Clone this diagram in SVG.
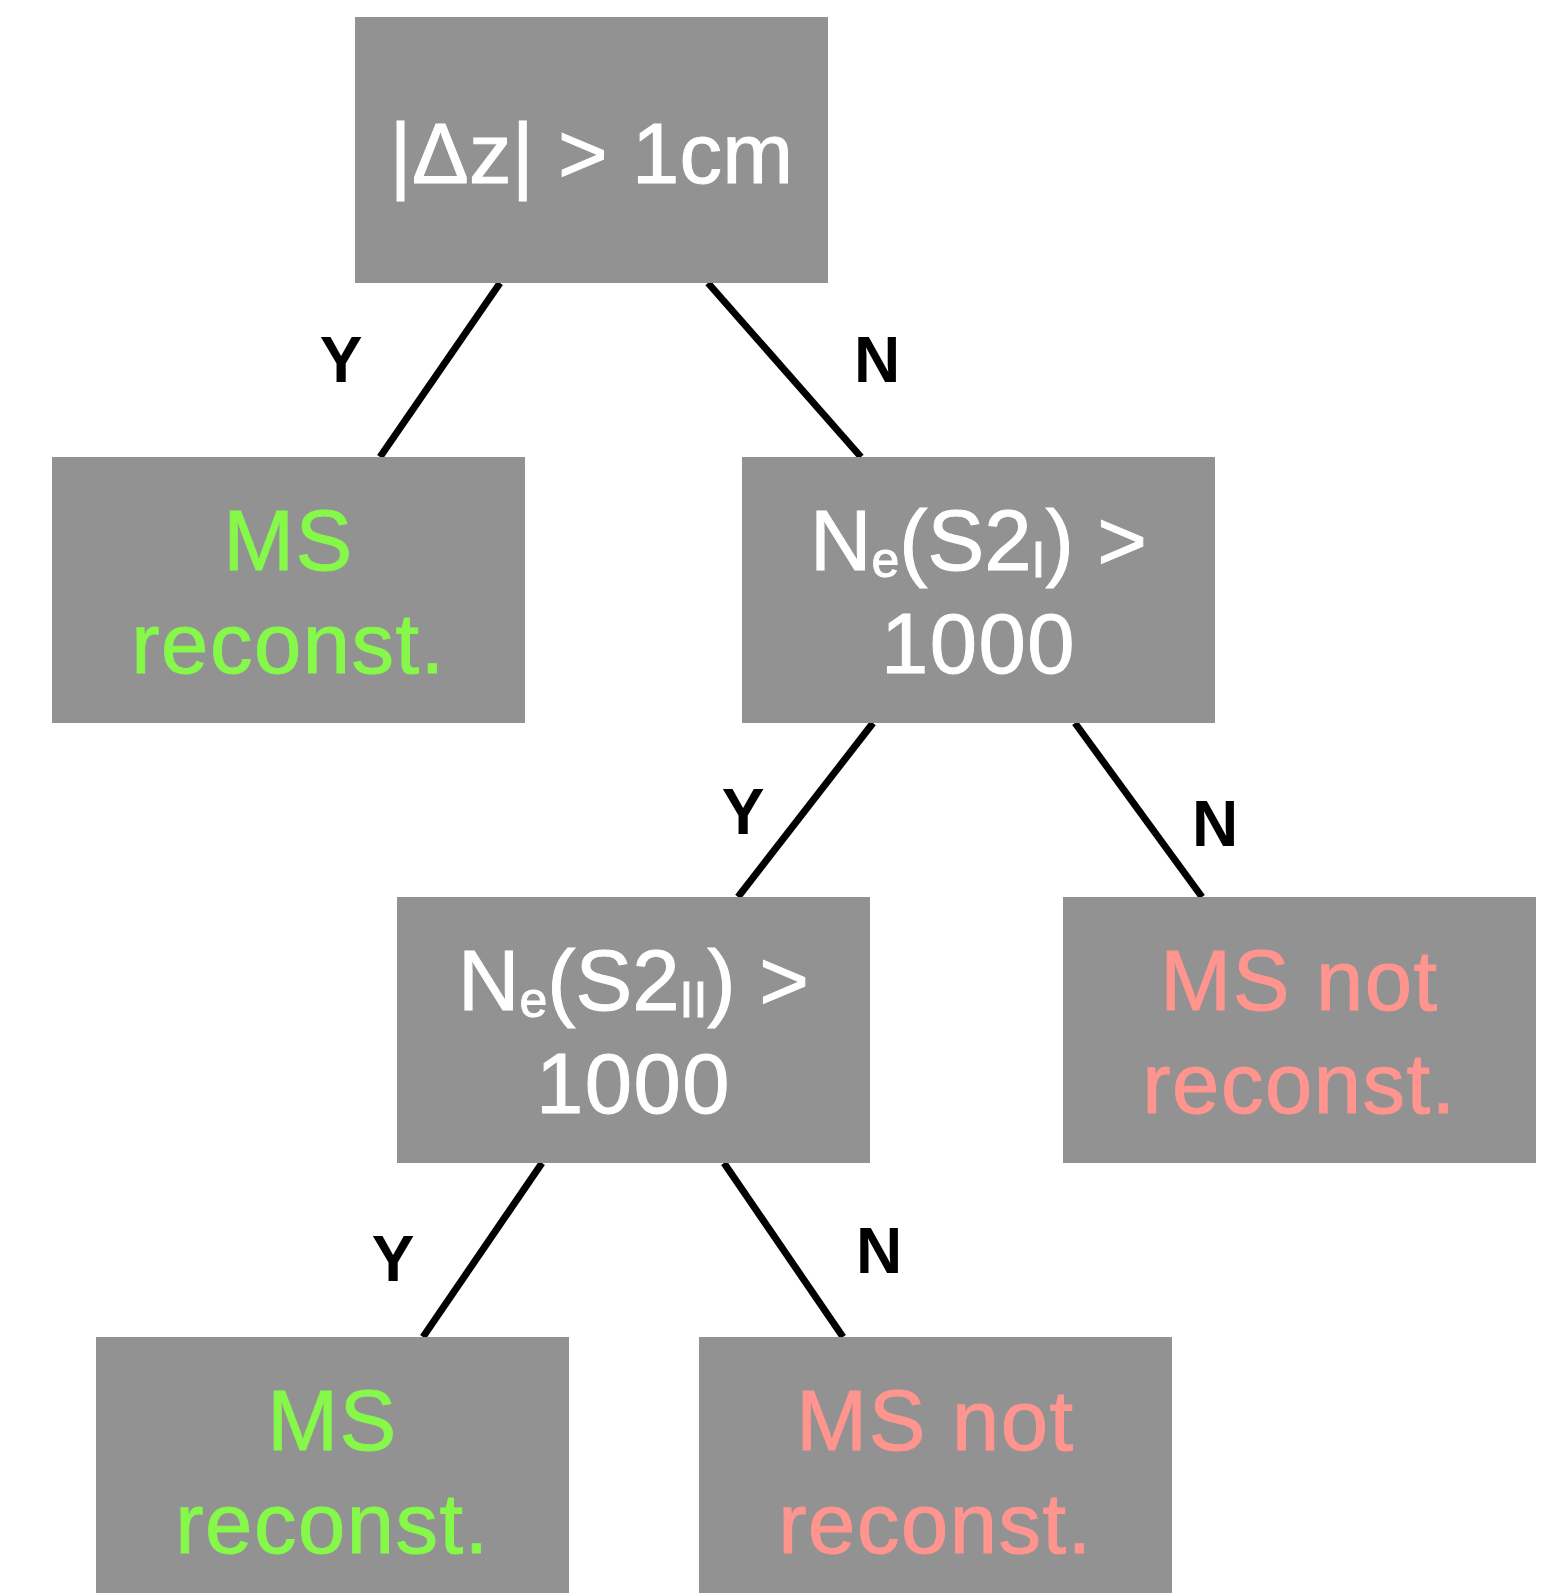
<svg xmlns="http://www.w3.org/2000/svg" width="1563" height="1593" viewBox="0 0 1563 1593">
  <style>
    .box { fill: #929292; }
    .t { font-family: "Liberation Sans", Arial, Helvetica, sans-serif; font-size: 85px; text-anchor: middle; letter-spacing: 1.5px; stroke-width: 1; }
    .w { fill: #ffffff; stroke: #ffffff; }
    .g { fill: #86F84A; stroke: #86F84A; }
    .r { fill: #FF958E; stroke: #FF958E; }
    .top { letter-spacing: 0.3px; }
    .cond { letter-spacing: 0px; }
    .sub { font-size: 50px; }
    .lbl { font-family: "Liberation Sans", Arial, Helvetica, sans-serif; font-size: 64px; font-weight: bold; fill: #000000; text-anchor: middle; }
    .edge { stroke: #000000; stroke-width: 7; fill: none; }
  </style>
  <rect width="1563" height="1593" fill="#ffffff"/>
  <g id="connectors">
    <line class="edge" x1="500" y1="283" x2="380" y2="457"/>
    <line class="edge" x1="708" y1="283" x2="861" y2="457"/>
    <line class="edge" x1="873" y1="723" x2="738" y2="897"/>
    <line class="edge" x1="1075" y1="723" x2="1202" y2="897"/>
    <line class="edge" x1="542" y1="1163" x2="423" y2="1337"/>
    <line class="edge" x1="724" y1="1163" x2="843" y2="1337"/>
    <text class="lbl" x="341" y="382">Y</text>
    <text class="lbl" x="877" y="382">N</text>
    <text class="lbl" x="743" y="834">Y</text>
    <text class="lbl" x="1215" y="846">N</text>
    <text class="lbl" x="393" y="1281">Y</text>
    <text class="lbl" x="879" y="1273">N</text>
  </g>
  <g id="node-dz">
    <rect class="box" x="355" y="17" width="473" height="266"/>
    <text class="t w top" x="591.5" y="183">|Δz| &gt; 1cm</text>
  </g>
  <g id="node-ms-reconst-1">
    <rect class="box" x="52" y="457" width="473" height="266"/>
    <text class="t g" x="288.5" y="570">MS</text>
    <text class="t g" x="288.5" y="673">reconst.</text>
  </g>
  <g id="node-s2i">
    <rect class="box" x="742" y="457" width="473" height="266"/>
    <text class="t w cond" x="978.5" y="570">N<tspan class="sub" dy="7">e</tspan><tspan dy="-7">(S2</tspan><tspan class="sub" dy="7">I</tspan><tspan dy="-7">) &gt;</tspan></text>
    <text class="t w" x="978.5" y="673">1000</text>
  </g>
  <g id="node-s2ii">
    <rect class="box" x="397" y="897" width="473" height="266"/>
    <text class="t w cond" x="633.5" y="1010">N<tspan class="sub" dy="7">e</tspan><tspan dy="-7">(S2</tspan><tspan class="sub" dy="7">II</tspan><tspan dy="-7">) &gt;</tspan></text>
    <text class="t w" x="633.5" y="1113">1000</text>
  </g>
  <g id="node-ms-not-1">
    <rect class="box" x="1063" y="897" width="473" height="266"/>
    <text class="t r" x="1299.5" y="1010">MS not</text>
    <text class="t r" x="1299.5" y="1113">reconst.</text>
  </g>
  <g id="node-ms-reconst-2">
    <rect class="box" x="96" y="1337" width="473" height="266"/>
    <text class="t g" x="332.5" y="1450">MS</text>
    <text class="t g" x="332.5" y="1553">reconst.</text>
  </g>
  <g id="node-ms-not-2">
    <rect class="box" x="699" y="1337" width="473" height="266"/>
    <text class="t r" x="935.5" y="1450">MS not</text>
    <text class="t r" x="935.5" y="1553">reconst.</text>
  </g>
</svg>
